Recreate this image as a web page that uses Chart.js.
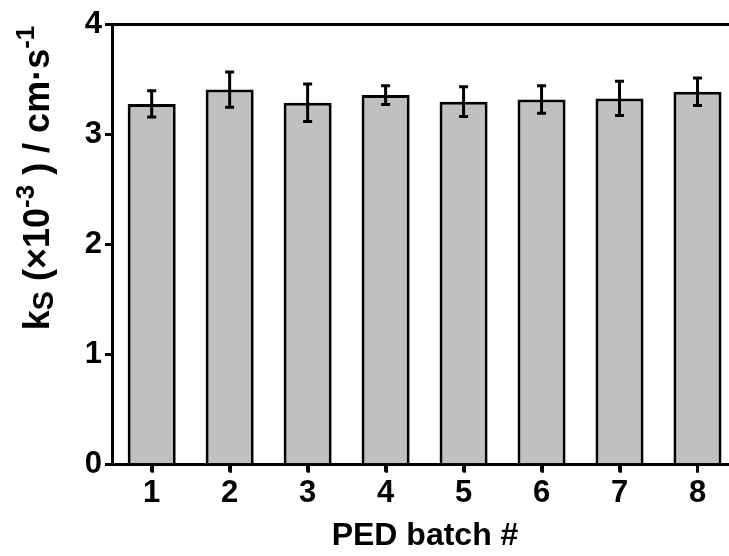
<!DOCTYPE html>
<html>
<head>
<meta charset="utf-8">
<script src="https://cdn.jsdelivr.net/npm/chart.js@4/dist/chart.umd.min.js"></script>
<style>
  html, body { margin: 0; padding: 0; background: #fff; }
  #wrap { width: 729px; height: 556px; }
</style>
</head>
<body>
<div id="wrap"><canvas id="c" width="729" height="556"></canvas></div>
<script>
// PED batch numbers and measured rate constants (×10^-3 cm/s), mean ± error
const batches = [1, 2, 3, 4, 5, 6, 7, 8];
const ksMeans = [3.28, 3.41, 3.29, 3.36, 3.30, 3.32, 3.33, 3.39];
const ksErrors = [0.12, 0.16, 0.17, 0.085, 0.135, 0.125, 0.155, 0.125];
const yTickValues = [0, 1, 2, 3, 4];

const FONT = 'Arial, "Liberation Sans", Helvetica, sans-serif';
const TICK_PX = 31;
const XTITLE_PX = 32;
const YTITLE_PX = 36;

// Error bars with caps, drawn on top of the bars
const errorBars = {
  id: 'errorBars',
  afterDatasetsDraw(chart) {
    const { ctx, scales: { x, y } } = chart;
    ctx.save();
    ctx.strokeStyle = '#000';
    ctx.lineWidth = 3;
    ctx.lineCap = 'butt';
    batches.forEach((b, i) => {
      const px = x.getPixelForValue(b);
      const top = y.getPixelForValue(ksMeans[i] + ksErrors[i]);
      const bot = y.getPixelForValue(ksMeans[i] - ksErrors[i]);
      const cap = 4.5;
      ctx.beginPath();
      ctx.moveTo(px, top); ctx.lineTo(px, bot);
      ctx.moveTo(px - cap, top); ctx.lineTo(px + cap, top);
      ctx.moveTo(px - cap, bot); ctx.lineTo(px + cap, bot);
      ctx.stroke();
    });
    ctx.restore();
  }
};

// Downward tick marks under each batch on the x axis
const xTickMarks = {
  id: 'xTickMarks',
  afterDraw(chart) {
    const { ctx, scales: { x } } = chart;
    ctx.save();
    ctx.strokeStyle = '#000';
    ctx.lineWidth = 3;
    batches.forEach(b => {
      const px = Math.round(x.getPixelForValue(b)) + 0.5;
      ctx.beginPath();
      ctx.moveTo(px, x.top);
      ctx.lineTo(px, x.top + 8);
      ctx.stroke();
    });
    ctx.restore();
  }
};

// Axis titles; the y title needs a subscript and superscripts
const axisTitles = {
  id: 'axisTitles',
  afterDraw(chart) {
    const ctx = chart.ctx;
    ctx.save();
    ctx.fillStyle = '#000';
    ctx.textBaseline = 'alphabetic';

    // x title
    ctx.font = `bold ${XTITLE_PX}px ${FONT}`;
    ctx.textAlign = 'center';
    ctx.fillText('PED batch #', 425, 545);

    // y title, rotated
    const parts = [
      { t: 'k', s: 1, dy: 0 },
      { t: 'S', s: 0.8, dy: -0.1 },
      { t: ' (\u00d710', s: 1, dy: 0 },
      { t: '-3', s: 0.72, dy: 0.42 },
      { t: ' ) / cm\u00b7s', s: 1, dy: 0 },
      { t: '-1', s: 0.72, dy: 0.42 }
    ];
    ctx.textAlign = 'left';
    let total = 0;
    parts.forEach(p => {
      ctx.font = `bold ${YTITLE_PX * p.s}px ${FONT}`;
      p.w = ctx.measureText(p.t).width;
      total += p.w;
    });
    ctx.translate(49, 178);
    ctx.rotate(-Math.PI / 2);
    let xPos = -total / 2;
    parts.forEach(p => {
      ctx.font = `bold ${YTITLE_PX * p.s}px ${FONT}`;
      ctx.fillText(p.t, xPos, -p.dy * YTITLE_PX);
      xPos += p.w;
    });
    ctx.restore();
  }
};

new Chart(document.getElementById('c'), {
  type: 'bar',
  data: {
    datasets: [{
      data: batches.map((b, i) => ({ x: b, y: ksMeans[i] })),
      backgroundColor: '#c0c0c0',
      borderColor: '#000',
      borderWidth: 3,
      borderSkipped: 'bottom',
      barPercentage: 0.616,
      categoryPercentage: 1
    }]
  },
  options: {
    responsive: false,
    devicePixelRatio: 1,
    animation: false,
    layout: { padding: { top: 24.7, right: 0, left: 0, bottom: 0 } },
    plugins: { legend: { display: false }, tooltip: { enabled: false } },
    scales: {
      x: {
        type: 'linear',
        min: 0.491,
        max: 8.404,
        offset: false,
        afterFit(s) { s.height = 91.3; },
        afterBuildTicks(s) { s.ticks = batches.map(v => ({ value: v })); },
        border: { display: true, color: '#000', width: 3 },
        grid: {
          display: true,
          offset: false,
          color: '#000',
          lineWidth: 3,
          drawOnChartArea: false,
          drawTicks: true,
          tickLength: 7,
          tickWidth: 3,
          tickColor: '#000'
        },
        ticks: {
          color: '#000',
          padding: 3,
          font: { family: FONT, size: TICK_PX, weight: 'bold' },
          callback: v => String(v)
        }
      },
      y: {
        min: 0,
        max: 4,
        afterFit(s) { s.width = 112; },
        afterBuildTicks(s) { s.ticks = yTickValues.map(v => ({ value: v })); },
        border: { display: true, color: '#000', width: 3 },
        grid: {
          color: c => (c.tick && c.tick.value === 4 ? '#000' : 'rgba(0,0,0,0)'),
          lineWidth: 3,
          drawTicks: true,
          tickLength: 7,
          tickWidth: 3,
          tickColor: '#000'
        },
        ticks: {
          color: '#000',
          padding: 3,
          font: { family: FONT, size: TICK_PX, weight: 'bold' },
          callback: v => String(v)
        }
      }
    }
  },
  plugins: [errorBars, xTickMarks, axisTitles]
});
</script>
</body>
</html>
